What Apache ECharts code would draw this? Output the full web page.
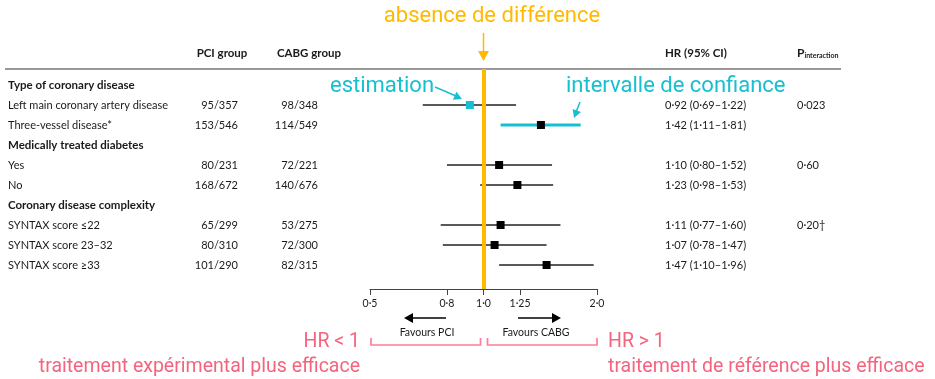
<!DOCTYPE html>
<html>
<head>
<meta charset="utf-8">
<script src="https://cdn.jsdelivr.net/npm/echarts@6/dist/echarts.min.js"></script>
<style>
  html, body { margin: 0; padding: 0; background: #fff; }
  #chart { width: 935px; height: 379px; }
</style>
</head>
<body>
<div id="chart"></div>
<script>
// ---- Subgroup table ----
const subgroups = [
  'Type of coronary disease',
  'Left main coronary artery disease',
  'Three-vessel disease*',
  'Medically treated diabetes',
  'Yes',
  'No',
  'Coronary disease complexity',
  'SYNTAX score \u226422',
  'SYNTAX score 23\u201332',
  'SYNTAX score \u226533'
];
const isSection = [true, false, false, true, false, false, true, false, false, false];
const pciEvents  = ['', '95/357', '153/546', '', '80/231', '168/672', '', '65/299', '80/310', '101/290'];
const cabgEvents = ['', '98/348', '114/549', '', '72/221', '140/676', '', '53/275', '72/300', '82/315'];
const hazardRatio = [null, 0.92, 1.42, null, 1.10, 1.23, null, 1.11, 1.07, 1.47];
const ciLow       = [null, 0.69, 1.11, null, 0.80, 0.98, null, 0.77, 0.78, 1.10];
const ciHigh      = [null, 1.22, 1.81, null, 1.52, 1.53, null, 1.60, 1.47, 1.96];
const pInteraction = ['', '0\u00b7023', '', '', '0\u00b760', '', '', '0\u00b720\u2020', '', ''];
const axisTicks = [0.5, 0.8, 1.0, 1.25, 2.0];
const axisTickLabels = ['0\u00b75', '0\u00b78', '1\u00b70', '1\u00b725', '2\u00b70'];

// Rows singled out by the callouts
const calloutPointRow = 1;
const calloutIntervalRow = 2;

const ORANGE = '#FFBA00';
const CYAN = '#17BFD2';
const PINK = '#F5637E';
const PINK_LIGHT = '#FF7E97';
const INK = '#1a1a1a';
const TABLE_FONT = 'Lato, "Open Sans", sans-serif';
const NOTE_FONT = 'Roboto, sans-serif';

const dot = v => v.toFixed(2).replace('.', '\u00b7');
const hrText = hazardRatio.map((v, i) =>
  v == null ? '' : dot(v) + ' (' + dot(ciLow[i]) + '\u2013' + dot(ciHigh[i]) + ')');

const forestData = [];
hazardRatio.forEach((v, i) => { if (v != null) forestData.push([v, i, ciLow[i], ciHigh[i]]); });
const tableData = subgroups.map((_, i) => [1, i]);

const chart = echarts.init(document.getElementById('chart'));

chart.setOption({
  animation: false,
  grid: { left: 370, right: 338, top: 69, bottom: 90 },
  xAxis: {
    type: 'log',
    logBase: 2,
    min: 0.5,
    max: 2,
    position: 'bottom',
    splitLine: { show: false },
    axisLine: { show: true, onZero: false, lineStyle: { color: '#444', width: 1 } },
    axisTick: { show: true, customValues: axisTicks, length: 6, lineStyle: { color: '#444' } },
    axisLabel: {
      customValues: axisTicks,
      formatter: v => axisTickLabels[axisTicks.findIndex(t => Math.abs(t - v) < 1e-6)] || '',
      color: INK, fontSize: 10.5, fontFamily: TABLE_FONT, margin: 9
    }
  },
  yAxis: { type: 'value', inverse: true, min: -0.8, max: 10.2, show: false },
  series: [
    {
      type: 'custom',
      name: 'table',
      clip: false,
      silent: true,
      data: tableData,
      encode: { x: 0, y: 1 },
      renderItem: (params, api) => {
        const i = api.value(1);
        const y = api.coord([1, i])[1];
        const base = { fill: INK, fontFamily: TABLE_FONT, fontSize: 11, verticalAlign: 'middle' };
        const children = [
          { type: 'text', style: Object.assign({}, base, isSection[i] ? { fontSize: 11.5, fontWeight: 'bold' } : {}, { x: 8, y, text: subgroups[i] }) }
        ];
        if (!isSection[i]) {
          children.push(
            { type: 'text', style: Object.assign({}, base, { x: 238, y, text: pciEvents[i], align: 'right' }) },
            { type: 'text', style: Object.assign({}, base, { x: 318, y, text: cabgEvents[i], align: 'right' }) },
            { type: 'text', style: Object.assign({}, base, { x: 665, y, text: hrText[i] }) },
            { type: 'text', style: Object.assign({}, base, { x: 797, y, text: pInteraction[i] }) }
          );
        }
        return { type: 'group', children };
      }
    },
    {
      type: 'custom',
      name: 'forest',
      clip: false,
      data: forestData,
      encode: { x: 0, y: 1 },
      renderItem: (params, api) => {
        const est = api.value(0), row = api.value(1);
        const lo = api.coord([api.value(2), row]);
        const hi = api.coord([api.value(3), row]);
        const c = api.coord([est, row]);
        const wide = row === calloutIntervalRow;
        const hlPoint = row === calloutPointRow;
        const s = 8;
        return {
          type: 'group',
          children: [
            { type: 'line', shape: { x1: lo[0], y1: lo[1], x2: hi[0], y2: hi[1] },
              style: { stroke: wide ? CYAN : '#222', lineWidth: wide ? 3 : 1.3 } },
            { type: 'rect', shape: { x: c[0] - s / 2, y: c[1] - s / 2, width: s, height: s },
              style: { fill: hlPoint ? CYAN : '#000' } }
          ]
        };
      },
      markLine: {
        silent: true,
        symbol: 'none',
        z: 10,
        label: { show: false },
        lineStyle: { color: ORANGE, width: 4, type: 'solid' },
        data: [{ xAxis: 1 }]
      }
    }
  ]
});

// ---- Headings and explanatory notes ----
const px = v => chart.convertToPixel({ xAxisIndex: 0 }, v);
const xNull = px(1), xMin = px(0.5), xMax = px(2);

const headStyle = { fill: INK, fontFamily: TABLE_FONT, fontSize: 11.5, fontWeight: 'bold', verticalAlign: 'middle' };

function arrowHead(tipX, tipY, dx, dy, size, color) {
  const len = Math.hypot(dx, dy), ux = dx / len, uy = dy / len;
  const bx = tipX - ux * size, by = tipY - uy * size;
  const w = size * 0.55;
  return { type: 'polygon', shape: { points: [[tipX, tipY], [bx - uy * w, by + ux * w], [bx + uy * w, by - ux * w]] }, style: { fill: color } };
}
function bracket(x1, x2, color) {
  return { type: 'polyline', shape: { points: [[x1, 338], [x1, 345], [x2, 345], [x2, 338]] }, style: { stroke: color, lineWidth: 1.7, fill: null } };
}

chart.setOption({
  graphic: [
    // Column headings
    { type: 'text', style: Object.assign({}, headStyle, { x: 222, y: 53, text: 'PCI group', align: 'center' }) },
    { type: 'text', style: Object.assign({}, headStyle, { x: 309, y: 53, text: 'CABG group', align: 'center' }) },
    { type: 'text', style: Object.assign({}, headStyle, { x: 665, y: 53, text: 'HR (95% CI)' }) },
    { type: 'text', style: {
        x: 797, y: 53, verticalAlign: 'middle',
        text: '{p|P}{s|interaction}',
        rich: {
          p: { fontFamily: TABLE_FONT, fontSize: 12, fontWeight: 'bold', fill: INK },
          s: { fontFamily: TABLE_FONT, fontSize: 7, fontWeight: 'bold', fill: INK, padding: [5, 0, 0, 0] }
        } } },
    { type: 'line', shape: { x1: 5, y1: 69, x2: 841, y2: 69 }, style: { stroke: '#333', lineWidth: 1.2 } },

    // Null line call-out
    { type: 'text', style: { x: 492, y: 16, text: 'absence de diff\u00e9rence', align: 'center', verticalAlign: 'middle', fill: ORANGE, fontFamily: NOTE_FONT, fontSize: 22 } },
    { type: 'line', shape: { x1: xNull, y1: 33, x2: xNull, y2: 52 }, style: { stroke: ORANGE, lineWidth: 1.5 } },
    arrowHead(xNull, 61, 0, 1, 10, ORANGE),

    // Point estimate call-out
    { type: 'text', style: { x: 330, y: 86, text: 'estimation', verticalAlign: 'middle', fill: CYAN, fontFamily: NOTE_FONT, fontSize: 22 } },
    { type: 'line', shape: { x1: 435, y1: 87, x2: 456, y2: 96 }, style: { stroke: CYAN, lineWidth: 1.5 } },
    arrowHead(462, 99, 27, 12, 8, CYAN),

    // Confidence interval call-out
    { type: 'text', style: { x: 566, y: 86, text: 'intervalle de confiance', verticalAlign: 'middle', fill: CYAN, fontFamily: NOTE_FONT, fontSize: 22 } },
    { type: 'line', shape: { x1: 580, y1: 102, x2: 576, y2: 112 }, style: { stroke: CYAN, lineWidth: 1.5 } },
    arrowHead(574, 118, -6, 16, 8, CYAN),

    // Direction arrows under the axis
    { type: 'line', shape: { x1: px(0.8) - 1, y1: 318, x2: 410, y2: 318 }, style: { stroke: '#000', lineWidth: 1.6 } },
    arrowHead(404, 318, -1, 0, 9, '#000'),
    { type: 'text', style: { x: 427, y: 333, text: 'Favours PCI', align: 'center', verticalAlign: 'middle', fill: INK, fontFamily: TABLE_FONT, fontSize: 10.5 } },
    { type: 'line', shape: { x1: px(1.25) - 2, y1: 318, x2: 555, y2: 318 }, style: { stroke: '#000', lineWidth: 1.6 } },
    arrowHead(561, 318, 1, 0, 9, '#000'),
    { type: 'text', style: { x: 536, y: 333, text: 'Favours CABG', align: 'center', verticalAlign: 'middle', fill: INK, fontFamily: TABLE_FONT, fontSize: 10.5 } },

    // Interpretation of HR either side of 1
    bracket(xMin + 1, xNull - 3, PINK_LIGHT),
    bracket(xNull + 4, xMax, PINK_LIGHT),
    { type: 'text', style: { x: 360, y: 342, text: 'HR < 1', align: 'right', verticalAlign: 'middle', fill: PINK, fontFamily: NOTE_FONT, fontSize: 19.5 } },
    { type: 'text', style: { x: 360, y: 367, text: 'traitement exp\u00e9rimental plus efficace', align: 'right', verticalAlign: 'middle', fill: PINK, fontFamily: NOTE_FONT, fontSize: 19.5 } },
    { type: 'text', style: { x: 608, y: 342, text: 'HR > 1', verticalAlign: 'middle', fill: PINK, fontFamily: NOTE_FONT, fontSize: 19.5 } },
    { type: 'text', style: { x: 608, y: 367, text: 'traitement de r\u00e9f\u00e9rence plus efficace', verticalAlign: 'middle', fill: PINK, fontFamily: NOTE_FONT, fontSize: 19.5 } }
  ]
});
</script>
</body>
</html>
